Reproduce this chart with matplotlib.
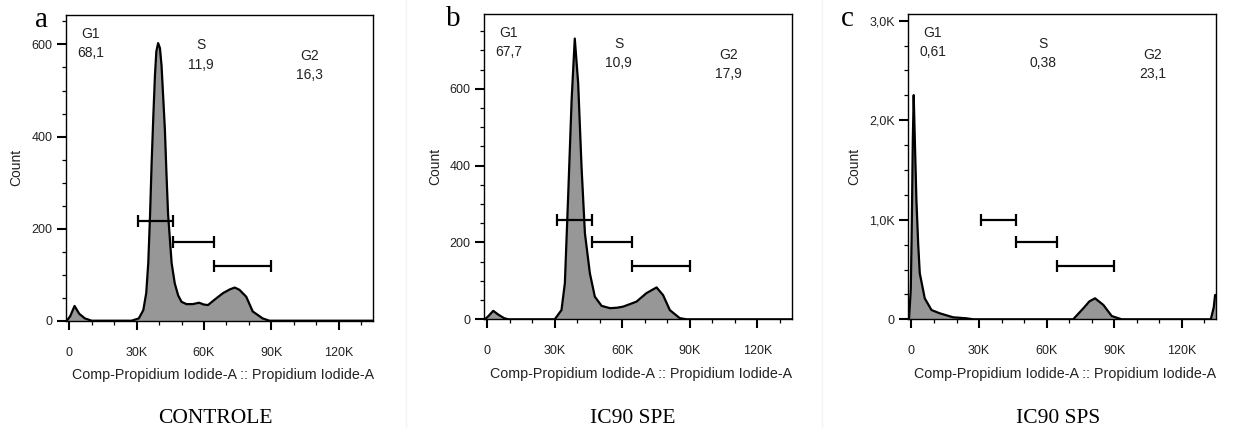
import matplotlib.pyplot as plt
from matplotlib.lines import Line2D
from matplotlib.ticker import FuncFormatter, MultipleLocator
import numpy as np

# histogram outlines: x in channel units (K), y in counts
controle_x = [-1.0, 0.5, 2.4, 4.5, 7.0, 10.0, 27.8, 31.0, 33.0, 34.3, 35.2, 36.0, 36.7,
              37.5, 38.2, 38.8, 39.6, 40.4, 41.1, 41.8, 42.6, 43.3, 44.0, 45.6, 47.0,
              48.5, 50.0, 52.2, 55.0, 57.8, 60.0, 61.8, 64.8, 68.5, 71.5, 73.7, 75.8,
              78.8, 81.7, 86.1, 89.1, 135.5]
controle_y = [0, 10, 32, 15, 5, 0, 0, 5, 23, 60, 125, 230, 342,
              450, 535, 585, 603, 592, 555, 490, 415, 320, 233, 125, 81,
              55, 41, 36, 36, 39, 35, 34, 46, 60, 68, 72, 67,
              52, 20, 5, 0, 0]

spe_x = [-1.0, 0.5, 2.7, 5.0, 7.5, 9.3, 30.0, 33.0, 34.5, 35.9, 37.5, 38.9, 40.4,
         41.9, 43.4, 45.6, 47.8, 50.8, 54.5, 57.5, 60.4, 66.3, 70.7, 75.2, 78.1,
         81.1, 85.5, 88.5, 135.5]
spe_y = [0, 8, 22, 12, 3, 0, 0, 24, 94, 311, 571, 731, 615,
         397, 224, 120, 59, 35, 29, 30, 33, 46, 68, 83, 63,
         24, 3, 0, 0]

sps_x = [-1.1, -0.3, 0.1, 0.6, 1.0, 1.5, 2.2, 3.0, 3.7, 5.9, 8.9, 12.6, 18.5, 24.4,
         27.4, 71.8, 76.3, 79.0, 81.5, 85.2, 88.9, 93.3, 132.9, 134.2, 134.8, 136.0]
sps_y = [0, 300, 863, 1800, 2252, 1800, 1198, 750, 462, 211, 93, 60, 20, 10,
         0, 0, 110, 180, 211, 144, 33, 0, 0, 120, 244, 244]

# gates: (start K, end K, height in counts) for G1, S, G2
controle_gates = [(30.7, 46.3, 217), (46.3, 64.4, 171), (64.4, 90.0, 119)]
spe_gates = [(30.8, 46.6, 259), (46.6, 64.5, 202), (64.5, 90.0, 139)]
sps_gates = [(30.8, 46.4, 997), (46.4, 64.4, 779), (64.4, 90.0, 535)]

phase_names = ["G1", "S", "G2"]
controle_pct = ["68,1", "11,9", "16,3"]
spe_pct = ["67,7", "10,9", "17,9"]
sps_pct = ["0,61", "0,38", "23,1"]

panel_letters = ["a", "b", "c"]
captions = ["CONTROLE", "IC90 SPE", "IC90 SPS"]
y_tops = [664, 795, 3067]
y_majors = [200, 200, 1000]
y_minors = [50, 50, 250]
x_ticks = [0, 30, 60, 90, 120]

SANS = "Liberation Sans"
SERIF = "Liberation Serif"
FILL = "#979797"

W, H = 1235, 428
fig = plt.figure(figsize=(W / 100, H / 100), dpi=100)


def px_rect(left, top, right, bottom):
    return [left / W, 1 - bottom / H, (right - left) / W, (bottom - top) / H]


rects = [px_rect(66, 15, 373, 320.7), px_rect(484, 14, 791.7, 319.3),
         px_rect(908.3, 14, 1216, 319.3)]
ylabel_x = [-0.163, -0.16, -0.177]
letter_pos = [(41, 27), (453, 26.5), (847.5, 26)]
caption_x = [215, 633, 1058]

panels = [
    (controle_x, controle_y, controle_gates, controle_pct),
    (spe_x, spe_y, spe_gates, spe_pct),
    (sps_x, sps_y, sps_gates, sps_pct),
]

# positions of the gate labels in axes fractions (name line, value line)
label_xy = [(0.08, 0.938, 0.875), (0.438, 0.902, 0.838), (0.794, 0.866, 0.804)]


def kfmt(v, _):
    return "0" if v == 0 else f"{v:.0f}K"


def count_fmt(big):
    def _f(v, _):
        if v == 0:
            return "0"
        if big:
            return f"{v / 1000:.1f}K".replace(".", ",")
        return f"{v:.0f}"
    return _f


for i, (hx, hy, gates, pct) in enumerate(panels):
    ax = fig.add_axes(rects[i])
    hx = np.array(hx)
    hy = np.array(hy)
    ax.fill_between(hx, 0, hy, color=FILL, lw=0)
    ax.plot(hx, hy, color="black", lw=1.6, solid_joinstyle="round")

    for x0, x1, gy in gates:
        ax.plot([x0, x1], [gy, gy], color="black", lw=1.6, marker="|",
                ms=9, mew=1.6, solid_capstyle="butt")

    for (lx, ny, vy), name, val in zip(label_xy, phase_names, pct):
        ax.text(lx, ny, name, transform=ax.transAxes, ha="center", va="center",
                fontsize=10, family=SANS, color="#222222")
        ax.text(lx, vy, val, transform=ax.transAxes, ha="center", va="center",
                fontsize=10, family=SANS, color="#222222")

    ax.set_xlim(-1.4, 135.2)
    ax.set_ylim(0, y_tops[i])
    ax.set_xticks(x_ticks)
    ax.xaxis.set_minor_locator(MultipleLocator(10))
    ax.yaxis.set_major_locator(MultipleLocator(y_majors[i]))
    ax.yaxis.set_minor_locator(MultipleLocator(y_minors[i]))
    ax.xaxis.set_major_formatter(FuncFormatter(kfmt))
    ax.yaxis.set_major_formatter(FuncFormatter(count_fmt(i == 2)))

    ax.tick_params(which="major", length=6.2, width=1.5, color="black")
    ax.tick_params(which="minor", length=3.0, width=0.9, color="black")
    ax.tick_params(axis="x", which="major", pad=12.5)
    ax.tick_params(axis="y", which="major", pad=3.5)
    for lab in ax.get_xticklabels() + ax.get_yticklabels():
        lab.set_fontfamily(SANS)
        lab.set_fontsize(9)
        lab.set_color("#222222")
    for sp in ax.spines.values():
        sp.set_linewidth(1.0)

    ax.set_xlabel("Comp-Propidium Iodide-A :: Propidium Iodide-A", family=SANS,
                  fontsize=10.3, color="#222222", va="center")
    ax.xaxis.set_label_coords(0.51, -0.178)
    ax.set_ylabel("Count", family=SANS, fontsize=10, color="#222222", va="center")
    ax.yaxis.set_label_coords(ylabel_x[i], 0.5)

    lx, ly = letter_pos[i]
    fig.text(lx / W, 1 - ly / H, panel_letters[i], ha="center", va="baseline",
             family=SERIF, fontsize=21)
    fig.text(caption_x[i] / W, 1 - 422.7 / H, captions[i], ha="center",
             va="baseline", family=SERIF, fontsize=15.5)

# faint seams between the three source images
for sx in (406, 822):
    fig.add_artist(Line2D([sx / W, sx / W], [0, 1], color="#f4f4f4", lw=1))

fig.savefig("out.png", dpi=100)
